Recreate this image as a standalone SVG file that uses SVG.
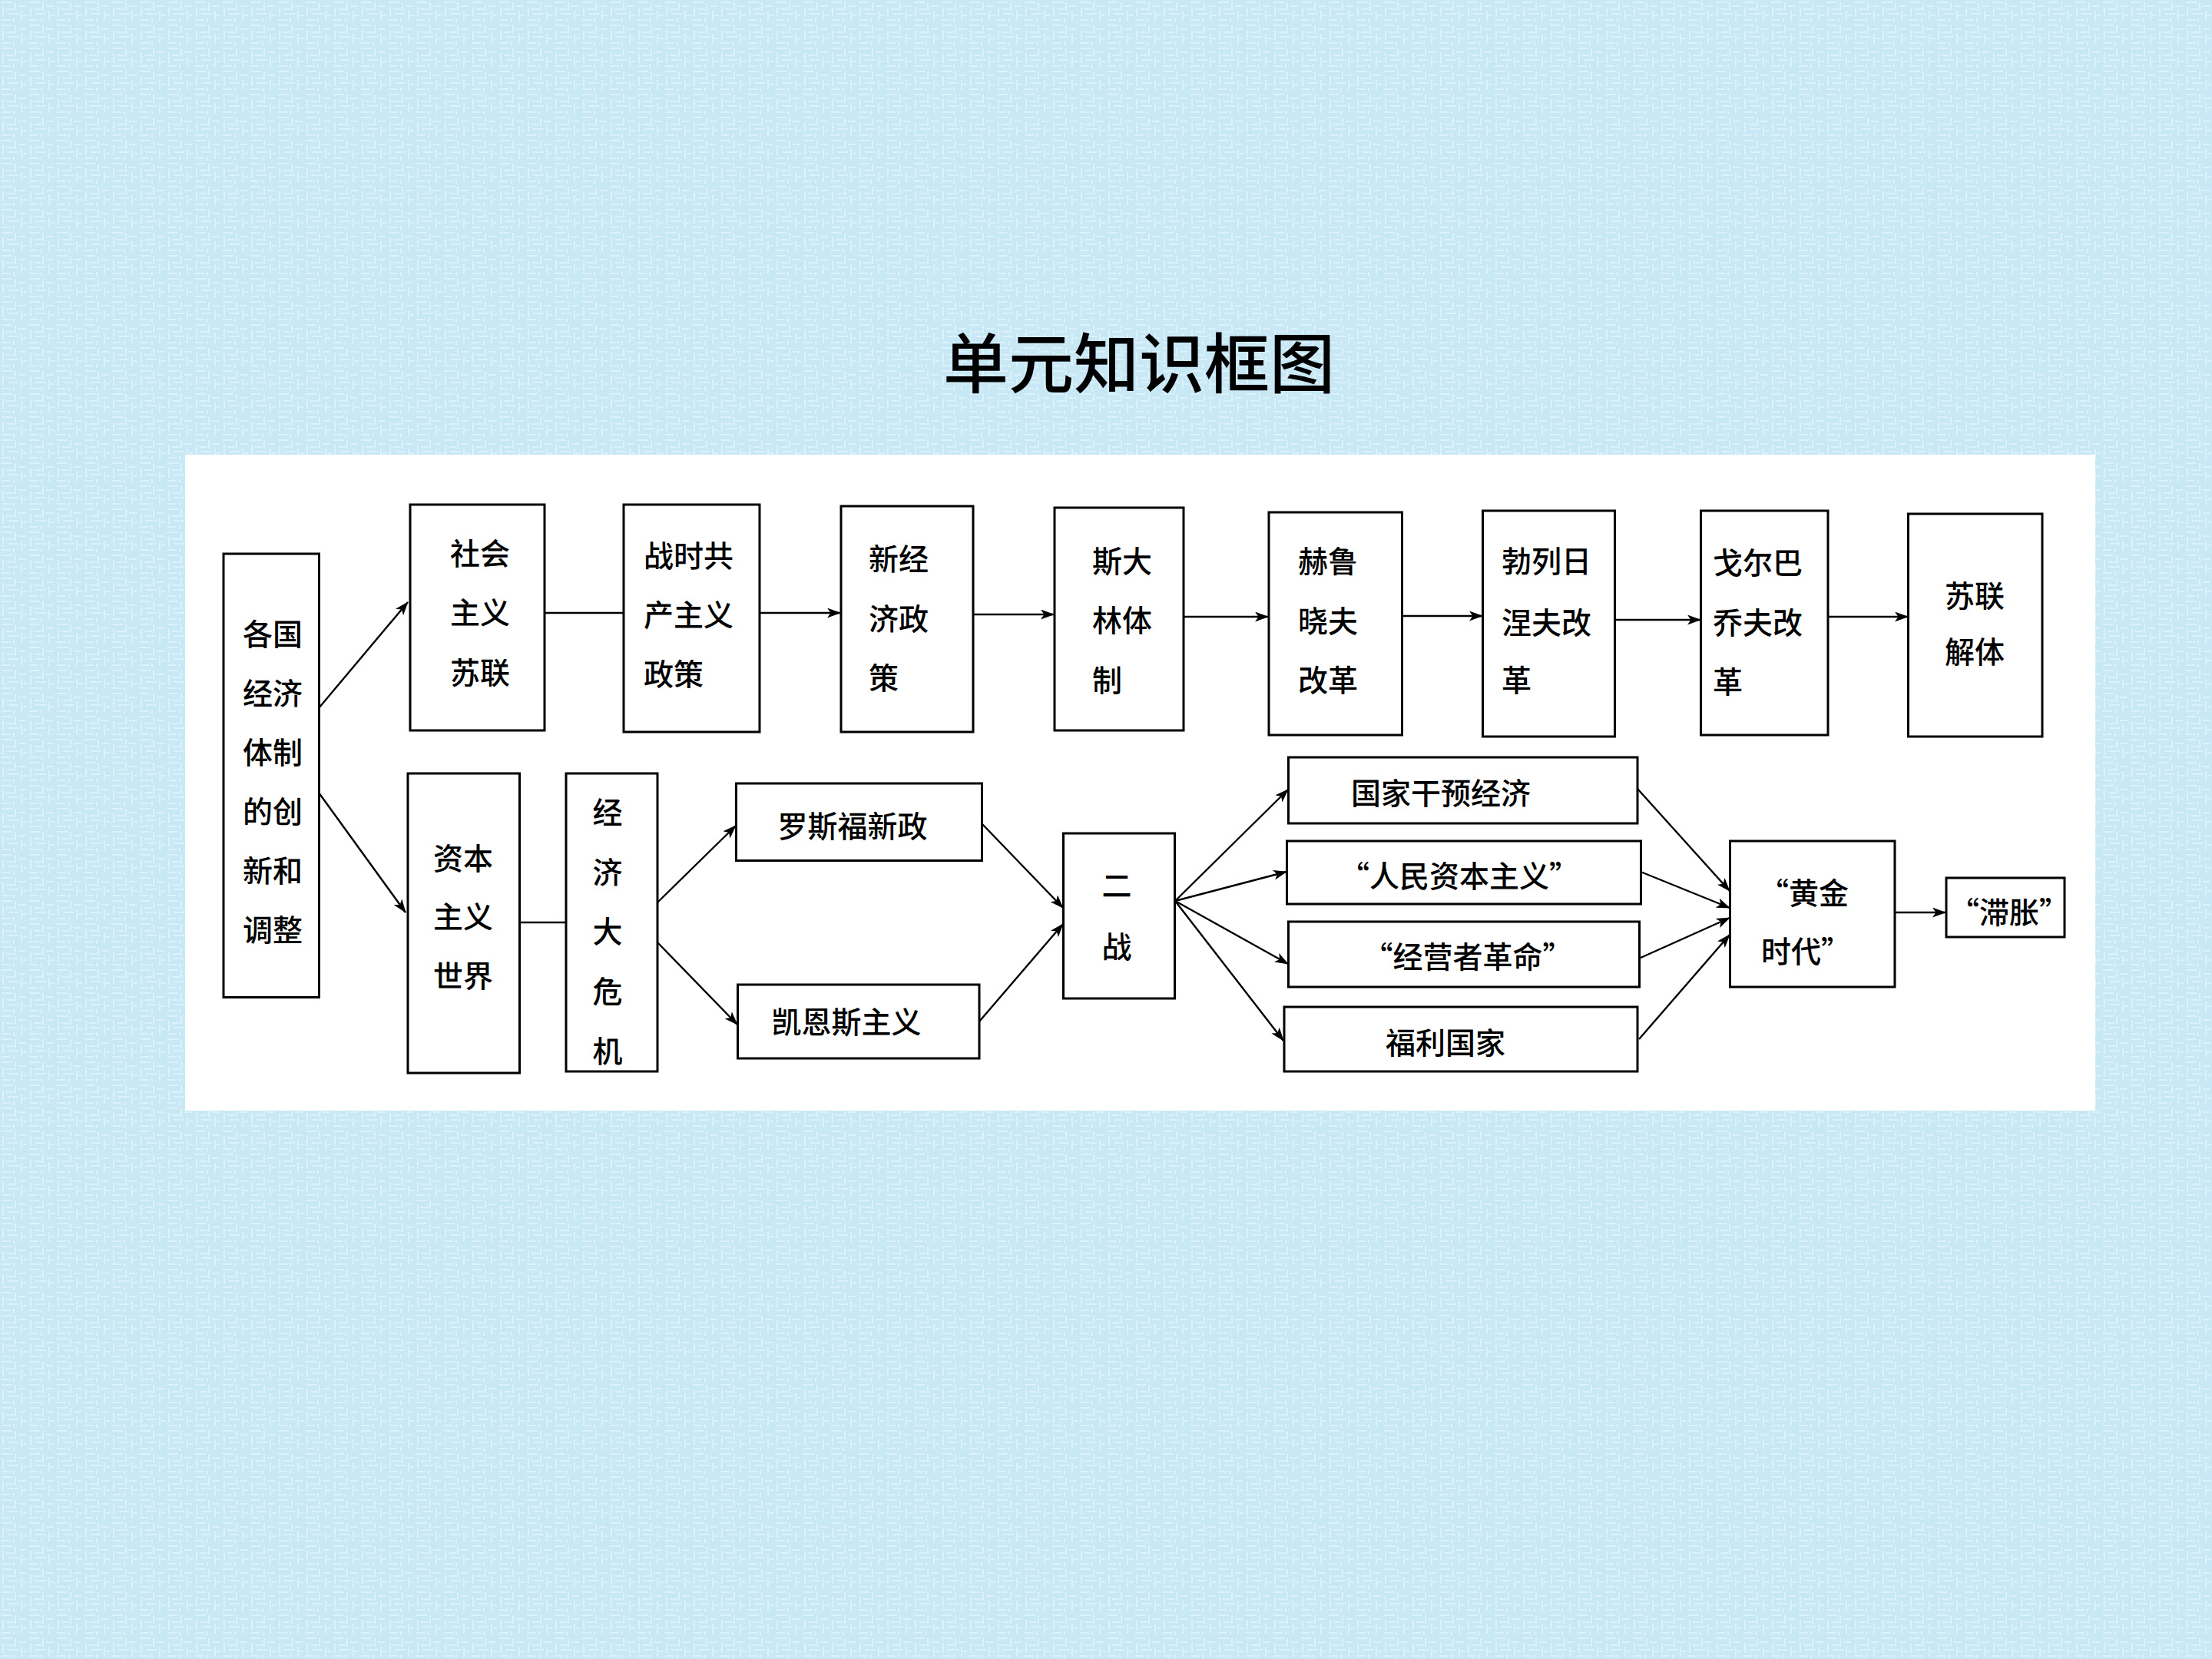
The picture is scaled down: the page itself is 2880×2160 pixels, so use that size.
<svg xmlns="http://www.w3.org/2000/svg" width="2880" height="2160" viewBox="0 0 2880 2160">
<style>
.box{fill:#fff;stroke:#000;stroke-width:3}
.t{font-family:"Noto Sans CJK SC","Noto Sans CJK TC",sans-serif;font-size:39px;font-weight:500;fill:#000}
.c{text-anchor:middle}
.ln{fill:none;stroke:#000;stroke-width:2.4}
.ar{fill:none;stroke:#000;stroke-width:2.4;marker-end:url(#ah)}
.title{font-family:"Noto Sans CJK SC","Noto Sans CJK TC",sans-serif;font-size:85px;font-weight:500;fill:#000;text-anchor:middle}
</style>
<defs>
<marker id="ah" markerUnits="userSpaceOnUse" markerWidth="18" markerHeight="13" refX="17" refY="6.5" orient="auto">
<path d="M0,0 L18,6.5 L0,13 L4.5,6.5 Z" fill="#000"/>
</marker>
<pattern id="tex" patternUnits="userSpaceOnUse" width="36" height="30">
<rect width="36" height="30" fill="#c9e8f5"/>
<path d="M2,3 H16 M20,3 V14 M24,8 H34 M4,9 V22 M8,12 H18 M28,14 V27 M10,18 H24 M2,26 H14 M18,24 V29 M30,20 H35" stroke="#dbf2fb" stroke-width="2" fill="none"/>
</pattern>
</defs>
<rect x="0" y="0" width="2880" height="2160" fill="url(#tex)"/>
<text class="title" x="1483" y="505">单元知识框图</text>
<rect x="241" y="592" width="2487" height="854" fill="#fff"/>

<g id="connectors">
<line class="ar" x1="415" y1="922" x2="531" y2="784"/>
<line class="ar" x1="415" y1="1032" x2="528" y2="1188"/>
<line class="ln" x1="709" y1="798" x2="812" y2="798"/>
<line class="ar" x1="989" y1="798" x2="1094" y2="798"/>
<line class="ar" x1="1267" y1="800" x2="1372" y2="800"/>
<line class="ar" x1="1541" y1="803" x2="1651" y2="803"/>
<line class="ar" x1="1825" y1="802" x2="1930" y2="802"/>
<line class="ar" x1="2103" y1="807" x2="2214" y2="807"/>
<line class="ar" x1="2380" y1="803" x2="2484" y2="803"/>
<line class="ln" x1="676" y1="1201" x2="737" y2="1201"/>
<line class="ar" x1="856" y1="1175" x2="958" y2="1075"/>
<line class="ar" x1="856" y1="1227" x2="960" y2="1334"/>
<line class="ar" x1="1279" y1="1073" x2="1384" y2="1182"/>
<line class="ar" x1="1275" y1="1330" x2="1384" y2="1203"/>
<line class="ar" x1="1530" y1="1173" x2="1677" y2="1028"/>
<line class="ar" x1="1530" y1="1173" x2="1675" y2="1135"/>
<line class="ar" x1="1530" y1="1173" x2="1677" y2="1255"/>
<line class="ar" x1="1530" y1="1173" x2="1671" y2="1355"/>
<line class="ar" x1="2132" y1="1027" x2="2252" y2="1160"/>
<line class="ar" x1="2136" y1="1135" x2="2252" y2="1182"/>
<line class="ar" x1="2136" y1="1247" x2="2252" y2="1195"/>
<line class="ar" x1="2134" y1="1353" x2="2252" y2="1217"/>
<line class="ar" x1="2467" y1="1188" x2="2533" y2="1188"/>
</g>

<g id="n_geguo">
<rect class="box" x="291" y="721" width="124.5" height="577.5"/>
<text class="t" x="316" y="840">各国</text>
<text class="t" x="316" y="917">经济</text>
<text class="t" x="316" y="994">体制</text>
<text class="t" x="316" y="1071">的创</text>
<text class="t" x="316" y="1148">新和</text>
<text class="t" x="316" y="1225">调整</text>
</g>
<g id="n_shehui">
<rect class="box" x="534" y="657" width="175" height="294"/>
<text class="t" x="586" y="735">社会</text>
<text class="t" x="586" y="812">主义</text>
<text class="t" x="586" y="890">苏联</text>
</g>
<g id="n_zhanshi">
<rect class="box" x="812" y="657" width="177" height="296"/>
<text class="t" x="838" y="738">战时共</text>
<text class="t" x="838" y="815">产主义</text>
<text class="t" x="838" y="892">政策</text>
</g>
<g id="n_xinjing">
<rect class="box" x="1095" y="659" width="172" height="294"/>
<text class="t" x="1131" y="742">新经</text>
<text class="t" x="1131" y="820">济政</text>
<text class="t" x="1131" y="897">策</text>
</g>
<g id="n_sida">
<rect class="box" x="1373" y="661" width="168" height="290"/>
<text class="t" x="1422" y="745">斯大</text>
<text class="t" x="1422" y="822">林体</text>
<text class="t" x="1422" y="900">制</text>
</g>
<g id="n_helu">
<rect class="box" x="1652" y="667" width="173.5" height="290"/>
<text class="t" x="1690" y="745">赫鲁</text>
<text class="t" x="1690" y="823">晓夫</text>
<text class="t" x="1690" y="900">改革</text>
</g>
<g id="n_bolie">
<rect class="box" x="1930.5" y="665" width="172" height="294"/>
<text class="t" x="1955" y="745">勃列日</text>
<text class="t" x="1955" y="825">涅夫改</text>
<text class="t" x="1955" y="900">革</text>
</g>
<g id="n_geer">
<rect class="box" x="2214.5" y="665" width="165.5" height="292"/>
<text class="t" x="2230" y="747">戈尔巴</text>
<text class="t" x="2230" y="825">乔夫改</text>
<text class="t" x="2230" y="902">革</text>
</g>
<g id="n_jieti">
<rect class="box" x="2484.5" y="669" width="174.5" height="290"/>
<text class="t" x="2532" y="790">苏联</text>
<text class="t" x="2532" y="863">解体</text>
</g>
<g id="n_ziben">
<rect class="box" x="531" y="1007" width="145.5" height="390"/>
<text class="t" x="564" y="1132">资本</text>
<text class="t" x="564" y="1208">主义</text>
<text class="t" x="564" y="1285">世界</text>
</g>
<g id="n_jingji">
<rect class="box" x="737" y="1007" width="119" height="388"/>
<text class="t c" x="791" y="1072">经</text>
<text class="t c" x="791" y="1150">济</text>
<text class="t c" x="791" y="1227">大</text>
<text class="t c" x="791" y="1305">危</text>
<text class="t c" x="791" y="1383">机</text>
</g>
<g id="n_luosifu">
<rect class="box" x="958.5" y="1020" width="320" height="100.5"/>
<text class="t c" x="1110" y="1090">罗斯福新政</text>
</g>
<g id="n_kaiens">
<rect class="box" x="960.5" y="1282" width="314.5" height="96"/>
<text class="t c" x="1102" y="1345">凯恩斯主义</text>
</g>
<g id="n_erzhan">
<rect class="box" x="1384.5" y="1085" width="145" height="215"/>
<text class="t c" x="1454" y="1167">二</text>
<text class="t c" x="1454" y="1247">战</text>
</g>
<g id="n_guojia">
<rect class="box" x="1677.5" y="986" width="454.5" height="86"/>
<text class="t c" x="1876" y="1047">国家干预经济</text>
</g>
<g id="n_renmin">
<rect class="box" x="1675.5" y="1095" width="461" height="82"/>
<text class="t c" x="1900" y="1155">“人民资本主义”</text>
</g>
<g id="n_jingying">
<rect class="box" x="1677.5" y="1200" width="457" height="85"/>
<text class="t c" x="1911" y="1260">“经营者革命”</text>
</g>
<g id="n_fuli">
<rect class="box" x="1672" y="1311" width="460" height="84"/>
<text class="t c" x="1882" y="1372">福利国家</text>
</g>
<g id="n_huangjin">
<rect class="box" x="2252.5" y="1095" width="214.5" height="190"/>
<text class="t" x="2290" y="1177">“黄金</text>
<text class="t" x="2293" y="1253">时代”</text>
</g>
<g id="n_zhizhang">
<rect class="box" x="2534" y="1143" width="154" height="77"/>
<text class="t c" x="2616" y="1202">“滞胀”</text>
</g>
</svg>
